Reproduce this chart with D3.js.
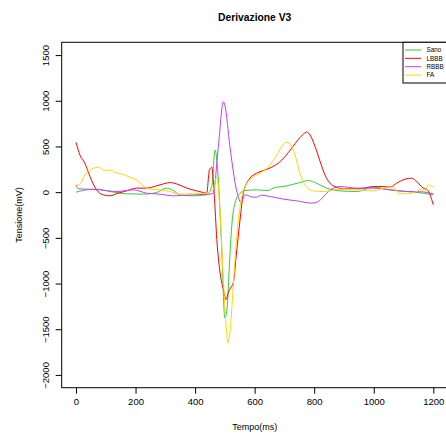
<!DOCTYPE html>
<html>
<head>
<meta charset="utf-8">
<script src="https://cdn.jsdelivr.net/npm/d3@7"></script>
<style>
  body { margin: 0; background: #fff; }
  svg { font-family: "Liberation Sans", Arial, Helvetica, sans-serif; }
</style>
</head>
<body>
<div id="chart"></div>
<script>
// [tempo ms, tensione mV]
const sano = [[0,0],[36,25],[69,33],[114,7],[170,-18],[226,-22],[271,-4],[304,44],[327,18],[349,-29],[394,-40],[439,-29],[456,61],[467,462],[478,134],[489,-594],[500,-1376],[508,-1249],[515,-812],[523,-375],[534,-120],[551,-11],[568,18],[606,25],[645,18],[662,44],[708,69],[752,105],[780,127],[808,98],[842,44],[887,14],[943,7],[998,55],[1055,25],[1111,7],[1166,-11],[1200,-29]];
const lbbb = [[0,546],[13,407],[30,316],[47,170],[69,25],[92,-30],[114,-40],[141,-11],[170,14],[204,44],[237,44],[271,69],[293,90],[316,105],[338,90],[360,61],[383,33],[405,14],[428,-4],[439,-11],[448,243],[456,273],[464,-11],[473,-520],[484,-885],[495,-1067],[504,-1176],[511,-1103],[519,-1048],[528,-994],[539,-666],[551,-302],[562,-11],[573,98],[584,153],[606,207],[629,236],[657,273],[679,316],[702,389],[724,480],[747,578],[764,636],[775,658],[786,626],[803,498],[820,334],[836,189],[853,98],[875,55],[898,36],[931,36],[965,44],[998,61],[1032,61],[1055,55],[1077,98],[1105,142],[1127,153],[1144,116],[1166,44],[1180,25],[1189,-29],[1200,-139]];
const rbbb = [[0,80],[8,36],[36,33],[81,25],[137,7],[193,25],[237,-11],[282,-22],[327,-40],[394,-29],[450,-22],[461,-11],[478,498],[495,989],[500,953],[517,498],[539,25],[554,-110],[568,-29],[594,-55],[606,-55],[623,-33],[652,-48],[696,-76],[741,-95],[791,-120],[814,-102],[842,-11],[864,44],[887,61],[943,44],[998,44],[1055,25],[1111,7],[1166,3],[1200,-18]];
const fa = [[0,80],[11,80],[30,189],[53,251],[75,273],[97,236],[114,243],[131,214],[153,200],[181,164],[204,134],[226,69],[249,33],[282,25],[316,7],[349,-22],[394,-18],[439,-11],[461,25],[470,153],[473,164],[484,-229],[495,-957],[506,-1539],[510,-1648],[517,-1539],[528,-1031],[539,-521],[551,-157],[568,61],[590,153],[618,207],[645,273],[668,371],[691,498],[705,546],[719,527],[736,407],[752,207],[769,80],[797,14],[831,7],[887,33],[943,25],[998,14],[1032,44],[1066,55],[1083,-11],[1111,-18],[1144,7],[1161,33],[1172,7],[1183,80],[1200,55]];

const seriesNames = ["Sano", "LBBB", "RBBB", "FA"];
const seriesData = [sano, lbbb, rbbb, fa];
const seriesColors = ["#33cc33", "#ff0000", "#bf3eff", "#ffd700"];
const xTicks = [0, 200, 400, 600, 800, 1000, 1200];
const yTicks = [-2000, -1500, -1000, -500, 0, 500, 1000, 1500];

const W = 446, H = 445;
const plot = { left: 61.7, right: 447.6, top: 42.3, bottom: 387.7 };

const svg = d3.select("#chart").append("svg")
  .attr("width", W)
  .attr("height", H);

// R style: limits padded by 4%
const x = d3.scaleLinear().domain([-48, 1248]).range([plot.left, plot.right]);
const y = d3.scaleLinear().domain([-2140, 1640]).range([plot.bottom, plot.top]);

svg.append("clipPath").attr("id", "clip")
  .append("rect")
  .attr("x", plot.left).attr("y", plot.top)
  .attr("width", plot.right - plot.left).attr("height", plot.bottom - plot.top);

const line = d3.line()
  .x(d => x(d[0]))
  .y(d => y(d[1]))
  .curve(d3.curveMonotoneX);

const lines = svg.append("g").attr("clip-path", "url(#clip)");
seriesData.forEach((s, i) => {
  lines.append("path")
    .datum(s)
    .attr("fill", "none")
    .attr("stroke", seriesColors[i])
    .attr("stroke-width", 1)
    .attr("d", line);
});

// x axis
const xAxis = svg.append("g")
  .attr("transform", `translate(0,${plot.bottom})`)
  .call(d3.axisBottom(x).tickValues(xTicks).tickSize(6).tickPadding(5).tickFormat(d3.format("d")));
xAxis.selectAll("text").style("font-size", "9.5px").attr("fill", "#000");

// y axis, labels parallel to the axis
const yAxis = svg.append("g")
  .attr("transform", `translate(${plot.left},0)`)
  .call(d3.axisLeft(y).tickValues(yTicks).tickSize(6).tickFormat(d => d < 0 ? "\u2212" + Math.abs(d) : d));
yAxis.selectAll("text")
  .style("font-size", "9.5px")
  .attr("fill", "#000")
  .attr("x", null).attr("dy", null)
  .attr("text-anchor", "middle")
  .attr("transform", d => `translate(${48.5 - plot.left},0) rotate(-90)`);

svg.selectAll(".domain").remove();
svg.selectAll(".tick line").attr("stroke", "#000");

// box
svg.append("rect")
  .attr("x", plot.left).attr("y", plot.top)
  .attr("width", plot.right - plot.left).attr("height", plot.bottom - plot.top)
  .attr("fill", "none").attr("stroke", "#000").attr("stroke-width", 1);

// titles
svg.append("text")
  .attr("x", (plot.left + plot.right) / 2)
  .attr("y", 20.7)
  .attr("text-anchor", "middle")
  .style("font-size", "10.3px")
  .style("font-weight", "bold")
  .text("Derivazione V3");

svg.append("text")
  .attr("x", (plot.left + plot.right) / 2)
  .attr("y", 430)
  .attr("text-anchor", "middle")
  .style("font-size", "9px")
  .text("Tempo(ms)");

svg.append("text")
  .attr("transform", `translate(21.5,${(plot.top + plot.bottom) / 2}) rotate(-90)`)
  .attr("text-anchor", "middle")
  .style("font-size", "9px")
  .text("Tensione(mV)");

// legend topright
const legend = svg.append("g");
legend.append("rect")
  .attr("x", 403).attr("y", plot.top)
  .attr("width", plot.right - 403).attr("height", 83 - plot.top)
  .attr("fill", "#fff").attr("stroke", "#000").attr("stroke-width", 1);

seriesNames.forEach((name, i) => {
  const ly = 50 + i * 8.35;
  legend.append("line")
    .attr("x1", 405).attr("x2", 421)
    .attr("y1", ly).attr("y2", ly)
    .attr("stroke", seriesColors[i]).attr("stroke-width", 1);
  legend.append("text")
    .attr("x", 426.5).attr("y", ly)
    .attr("dy", "0.35em")
    .style("font-size", "6.3px")
    .text(name);
});
</script>
</body>
</html>
